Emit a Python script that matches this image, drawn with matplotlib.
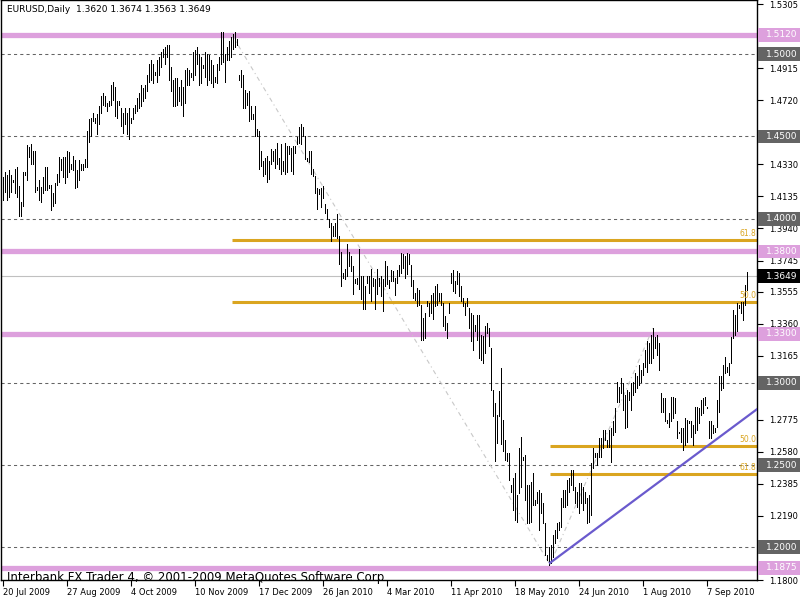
import numpy as np
import matplotlib
matplotlib.use("Agg")
import matplotlib.pyplot as plt
import matplotlib.transforms as mtransforms
from matplotlib.patches import Rectangle

# daily bars EURUSD, 20 Jul 2009 .. end Sep 2010
highs = [
    1.4254, 1.4284, 1.4264, 1.4294, 1.4264, 1.4234, 1.4304, 1.4314, 1.4200, 1.4104,
    1.4284, 1.4284, 1.4450, 1.4434, 1.4454, 1.4414, 1.4414, 1.4194, 1.4234, 1.4194,
    1.4254, 1.4314, 1.4314, 1.4204, 1.4204, 1.4154, 1.4214, 1.4274, 1.4374, 1.4364,
    1.4374, 1.4374, 1.4414, 1.4404, 1.4334, 1.4384, 1.4354, 1.4294, 1.4354, 1.4334,
    1.4334, 1.4364, 1.4534, 1.4604, 1.4614, 1.4644, 1.4614, 1.4634, 1.4684, 1.4744,
    1.4764, 1.4744, 1.4704, 1.4714, 1.4814, 1.4834, 1.4804, 1.4714, 1.4714, 1.4674,
    1.4644, 1.4674, 1.4644, 1.4674, 1.4614, 1.4674, 1.4694, 1.4734, 1.4764, 1.4814,
    1.4794, 1.4814, 1.4874, 1.4944, 1.4964, 1.4944, 1.4894, 1.4964, 1.4984, 1.5014,
    1.5034, 1.5044, 1.5054, 1.5054, 1.4924, 1.4844, 1.4854, 1.4854, 1.4804, 1.4844,
    1.4804, 1.4904, 1.4914, 1.4904, 1.4884, 1.5014, 1.5024, 1.5044, 1.5004, 1.4984,
    1.4934, 1.5014, 1.5004, 1.4994, 1.4964, 1.4934, 1.4864, 1.4944, 1.4984, 1.5134,
    1.5134, 1.5004, 1.5044, 1.5084, 1.5104, 1.5124, 1.5134, 1.5094, 1.4874, 1.4904,
    1.4874, 1.4784, 1.4764, 1.4774, 1.4684, 1.4634, 1.4684, 1.4544, 1.4534, 1.4413,
    1.4352, 1.4372, 1.4382, 1.4352, 1.4423, 1.4413, 1.4423, 1.4463, 1.4372, 1.4453,
    1.4352, 1.4463, 1.4443, 1.4443, 1.4433, 1.4443, 1.4443, 1.4494, 1.4555, 1.4575,
    1.4555, 1.4504, 1.4372, 1.4413, 1.4413, 1.4301, 1.4260, 1.4189, 1.4179, 1.4189,
    1.4199, 1.4088, 1.4057, 1.3997, 1.3976, 1.3956, 1.3976, 1.4027, 1.3895, 1.3794,
    1.3672, 1.3692, 1.3844, 1.3794, 1.3773, 1.3713, 1.3631, 1.3641, 1.3814, 1.3651,
    1.3651, 1.3590, 1.3651, 1.3651, 1.3692, 1.3641, 1.3631, 1.3692, 1.3641, 1.3651,
    1.3631, 1.3741, 1.3711, 1.3629, 1.3690, 1.3680, 1.3639, 1.3690, 1.3720, 1.3792,
    1.3782, 1.3771, 1.3792, 1.3782, 1.3720, 1.3629, 1.3548, 1.3578, 1.3568, 1.3477,
    1.3396, 1.3426, 1.3497, 1.3487, 1.3538, 1.3548, 1.3589, 1.3599, 1.3548, 1.3548,
    1.3487, 1.3406, 1.3365, 1.3487, 1.3670, 1.3690, 1.3619, 1.3680, 1.3670, 1.3589,
    1.3518, 1.3487, 1.3518, 1.3457, 1.3426, 1.3416, 1.3355, 1.3416, 1.3416, 1.3294,
    1.3284, 1.3345, 1.3365, 1.3335, 1.3213, 1.2959, 1.2878, 1.2807, 1.2949, 1.3091,
    1.2777, 1.2655, 1.2574, 1.2574, 1.2379, 1.2419, 1.2450, 1.2318, 1.2602, 1.2673,
    1.2551, 1.2562, 1.2379, 1.2379, 1.2399, 1.2450, 1.2287, 1.2338, 1.2348, 1.2328,
    1.2267, 1.2145, 1.1953, 1.2003, 1.2013, 1.2074, 1.2105, 1.2145, 1.2156, 1.2298,
    1.2348, 1.2348, 1.2409, 1.2419, 1.2470, 1.2470, 1.2369, 1.2338, 1.2389, 1.2389,
    1.2369, 1.2338, 1.2298, 1.2318, 1.2511, 1.2602, 1.2572, 1.2572, 1.2663, 1.2663,
    1.2714, 1.2714, 1.2653, 1.2714, 1.2724, 1.2765, 1.2846, 1.3008, 1.2978, 1.3028,
    1.2998, 1.2927, 1.2957, 1.2947, 1.2998, 1.3008, 1.3059, 1.3039, 1.3110, 1.3079,
    1.3120, 1.3201, 1.3252, 1.3242, 1.3292, 1.3333, 1.3282, 1.3292, 1.3242, 1.2937,
    1.2907, 1.2907, 1.2775, 1.2815, 1.2917, 1.2917, 1.2907, 1.2765, 1.2704, 1.2724,
    1.2724, 1.2785, 1.2775, 1.2769, 1.2765, 1.2744, 1.2856, 1.2856, 1.2846, 1.2896,
    1.2907, 1.2917, 1.2856, 1.2765, 1.2765, 1.2744, 1.2724, 1.2896, 1.3039, 1.3039,
    1.3110, 1.3160, 1.3099, 1.3120, 1.3282, 1.3445, 1.3414, 1.3485, 1.3475, 1.3495,
    1.3495, 1.3597, 1.3674,
]
lows = [
    1.4114, 1.4164, 1.4114, 1.4134, 1.4164, 1.4224, 1.4154, 1.4134, 1.4018, 1.4018,
    1.4074, 1.4264, 1.4234, 1.4374, 1.4334, 1.4334, 1.4164, 1.4174, 1.4114, 1.4104,
    1.4154, 1.4174, 1.4174, 1.4184, 1.4054, 1.4074, 1.4094, 1.4204, 1.4224, 1.4294,
    1.4254, 1.4214, 1.4254, 1.4284, 1.4304, 1.4294, 1.4184, 1.4194, 1.4234, 1.4294,
    1.4294, 1.4314, 1.4314, 1.4464, 1.4504, 1.4594, 1.4584, 1.4514, 1.4574, 1.4644,
    1.4694, 1.4684, 1.4654, 1.4684, 1.4694, 1.4724, 1.4624, 1.4614, 1.4694, 1.4564,
    1.4524, 1.4574, 1.4514, 1.4484, 1.4584, 1.4604, 1.4644, 1.4654, 1.4674, 1.4684,
    1.4714, 1.4734, 1.4774, 1.4834, 1.4844, 1.4824, 1.4874, 1.4834, 1.4874, 1.4924,
    1.4984, 1.4944, 1.4984, 1.4844, 1.4774, 1.4684, 1.4684, 1.4694, 1.4714, 1.4694,
    1.4624, 1.4704, 1.4814, 1.4814, 1.4864, 1.4844, 1.4874, 1.4944, 1.4814, 1.4824,
    1.4914, 1.4864, 1.4814, 1.4844, 1.4824, 1.4804, 1.4834, 1.4824, 1.4904, 1.4944,
    1.4954, 1.4834, 1.4964, 1.4964, 1.4984, 1.5034, 1.5044, 1.5054, 1.4844, 1.4804,
    1.4674, 1.4674, 1.4694, 1.4594, 1.4604, 1.4604, 1.4504, 1.4504, 1.4304, 1.4321,
    1.4260, 1.4271, 1.4220, 1.4240, 1.4332, 1.4352, 1.4311, 1.4332, 1.4301, 1.4271,
    1.4291, 1.4271, 1.4281, 1.4392, 1.4291, 1.4271, 1.4402, 1.4453, 1.4463, 1.4453,
    1.4504, 1.4362, 1.4352, 1.4342, 1.4271, 1.4260, 1.4159, 1.4057, 1.4149, 1.4068,
    1.4128, 1.4037, 1.3997, 1.3946, 1.3865, 1.3895, 1.3895, 1.3885, 1.3723, 1.3591,
    1.3641, 1.3631, 1.3651, 1.3713, 1.3682, 1.3540, 1.3611, 1.3601, 1.3570, 1.3509,
    1.3448, 1.3448, 1.3611, 1.3550, 1.3499, 1.3590, 1.3448, 1.3540, 1.3590, 1.3530,
    1.3438, 1.3589, 1.3599, 1.3578, 1.3619, 1.3619, 1.3538, 1.3609, 1.3650, 1.3670,
    1.3700, 1.3639, 1.3660, 1.3721, 1.3589, 1.3517, 1.3507, 1.3467, 1.3477, 1.3264,
    1.3264, 1.3274, 1.3467, 1.3406, 1.3426, 1.3386, 1.3467, 1.3477, 1.3497, 1.3477,
    1.3345, 1.3325, 1.3274, 1.3426, 1.3609, 1.3558, 1.3548, 1.3599, 1.3528, 1.3497,
    1.3467, 1.3416, 1.3467, 1.3335, 1.3254, 1.3203, 1.3315, 1.3264, 1.3152, 1.3142,
    1.3122, 1.3183, 1.3304, 1.3223, 1.2959, 1.2797, 1.2523, 1.2635, 1.2797, 1.2625,
    1.2584, 1.2533, 1.2523, 1.2411, 1.2338, 1.2227, 1.2166, 1.2156, 1.2328, 1.2369,
    1.2531, 1.2287, 1.2145, 1.2145, 1.2156, 1.2257, 1.2257, 1.2267, 1.2105, 1.2206,
    1.2145, 1.1953, 1.1922, 1.1892, 1.1902, 1.1942, 1.2024, 1.2054, 1.2105, 1.2125,
    1.2247, 1.2247, 1.2257, 1.2338, 1.2379, 1.2348, 1.2267, 1.2247, 1.2206, 1.2267,
    1.2227, 1.2267, 1.2145, 1.2156, 1.2196, 1.2480, 1.2551, 1.2501, 1.2551, 1.2551,
    1.2602, 1.2653, 1.2612, 1.2612, 1.2521, 1.2683, 1.2704, 1.2886, 1.2886, 1.2937,
    1.2836, 1.2724, 1.2734, 1.2896, 1.2836, 1.2927, 1.2947, 1.2968, 1.2988, 1.3008,
    1.3049, 1.3099, 1.3069, 1.3120, 1.3120, 1.3150, 1.3211, 1.3171, 1.3079, 1.2825,
    1.2825, 1.2765, 1.2754, 1.2734, 1.2765, 1.2785, 1.2815, 1.2663, 1.2693, 1.2643,
    1.2592, 1.2622, 1.2643, 1.2754, 1.2673, 1.2622, 1.2693, 1.2714, 1.2754, 1.2805,
    1.2815, 1.2866, 1.2846, 1.2663, 1.2663, 1.2693, 1.2704, 1.2734, 1.2825, 1.2957,
    1.2968, 1.3059, 1.3069, 1.3049, 1.3120, 1.3272, 1.3292, 1.3313, 1.3455, 1.3424,
    1.3384, 1.3475, 1.3563,
]
last_ohlc = [1.3620, 1.3674, 1.3563, 1.3649]

date_labels = ["20 Jul 2009", "27 Aug 2009", "4 Oct 2009", "10 Nov 2009",
               "17 Dec 2009", "26 Jan 2010", "4 Mar 2010", "11 Apr 2010",
               "18 May 2010", "24 Jun 2010", "1 Aug 2010", "7 Sep 2010"]
# scale marks; the ones covered by the level boxes have no visible label
price_ticks = [1.5305, 1.5110, 1.4915, 1.4720, 1.4525, 1.4330, 1.4135, 1.3940,
               1.3745, 1.3555, 1.3360, 1.3165, 1.2970, 1.2775, 1.2580, 1.2385,
               1.2190, 1.1995, 1.1800]
price_labels = ["1.5305", "", "1.4915", "1.4720", "", "1.4330", "1.4135", "1.3940",
                "1.3745", "1.3555", "1.3360", "1.3165", "", "1.2775", "1.2580",
                "1.2385", "1.2190", "", "1.1800"]

sr_levels = [1.5120, 1.3800, 1.3300, 1.1875]          # pink lines
round_levels = [1.5000, 1.4500, 1.4000, 1.3000, 1.2500, 1.2000]  # dashed
fib1_levels = [1.3872, 1.3495]   # 61.8, 50.0  (high -> low)
fib2_levels = [1.2614, 1.2445]   # 50.0, 61.8  (low -> high)
fib1_names = ["61.8", "50.0"]
fib2_names = ["50.0", "61.8"]
fib1_line = ([114.5, 273.5], [1.5118, 1.1894])
fib2_line = ([273.5, 325.0], [1.1894, 1.3334])
trend_line = ([273.5, 377.0], [1.1904, 1.2840])

PINK = "#DDA0DD"
GOLD = "#DAA520"
DGRAY = "#646464"

fig = plt.figure(figsize=(8, 6), dpi=100)
ax = fig.add_axes([1 / 800, 20 / 600, 756 / 800, 580 / 600])
ax.set_xlim(-1, 377)
ax.set_ylim(1.1802, 1.5331)

idx = np.arange(len(highs))
ax.vlines(idx, lows, highs, color="black", linewidth=0.72, antialiased=False, zorder=3)

for lv in round_levels:
    ax.axhline(lv, color=DGRAY, linestyle=(0, (3, 3)), linewidth=0.75, zorder=1)
for lv in sr_levels:
    ax.axhline(lv, color=PINK, linewidth=3.8, zorder=1)
ax.axhline(last_ohlc[3], color="#C0C0C0", linewidth=0.8, zorder=1)

ax.plot(*fib1_line, color="#C8C8C8", linestyle=(0, (4, 3, 1, 3)), linewidth=0.8, zorder=2)
ax.plot(*fib2_line, color="#C8C8C8", linestyle=(0, (4, 3, 1, 3)), linewidth=0.8, zorder=2)
for lv, nm in zip(fib1_levels, fib1_names):
    ax.hlines(lv, fib1_line[0][0], 377, color=GOLD, linewidth=2.2, zorder=2)
    ax.text(376.5, lv + 0.0012, nm, color=GOLD, fontsize=5.5, ha="right", va="bottom", zorder=4)
for lv, nm in zip(fib2_levels, fib2_names):
    ax.hlines(lv, fib2_line[0][0], 377, color=GOLD, linewidth=2.2, zorder=2)
    ax.text(376.5, lv + 0.0012, nm, color=GOLD, fontsize=5.5, ha="right", va="bottom", zorder=4)

ax.plot(*trend_line, color="#6A5ACD", linewidth=1.6, zorder=4)

# axes
ax.yaxis.tick_right()
ax.set_yticks(price_ticks)
ax.set_yticklabels(price_labels)
ax.tick_params(axis="y", length=4, width=0.8, pad=5, labelsize=6)
ax.set_xticks(np.arange(0, 32 * len(date_labels), 32))
ax.set_xticklabels(date_labels)
for lbl in ax.get_xticklabels():
    lbl.set_ha("left")
ax.tick_params(axis="x", length=4, width=0.8, pad=2, labelsize=6)
for sp in ax.spines.values():
    sp.set_linewidth(1.0)

# label boxes at the price scale
trans = mtransforms.blended_transform_factory(ax.transAxes, ax.transData)
boxes = [(lv, PINK) for lv in sr_levels] + [(lv, DGRAY) for lv in round_levels] + [(last_ohlc[3], "black")]
for lv, col in boxes:
    ax.add_patch(Rectangle((1.0013, lv - 0.0042), 0.06, 0.0084, transform=trans,
                           facecolor=col, edgecolor="none", clip_on=False, zorder=5))
    ax.text(1.0119, lv, "%.4f" % lv, transform=trans, color="white", fontsize=6.5,
            va="center", ha="left", clip_on=False, zorder=6)

fig.text(7 / 800, 1 - 10 / 600, "EURUSD,Daily  %.4f %.4f %.4f %.4f" % tuple(last_ohlc),
         fontsize=6.5, va="center", ha="left")
fig.text(7 / 800, 1 - 577 / 600, "Interbank FX Trader 4, \u00a9 2001-2009 MetaQuotes Software Corp.",
         fontsize=8.5, va="center", ha="left")

fig.savefig("out.png", dpi=100, facecolor="white")
